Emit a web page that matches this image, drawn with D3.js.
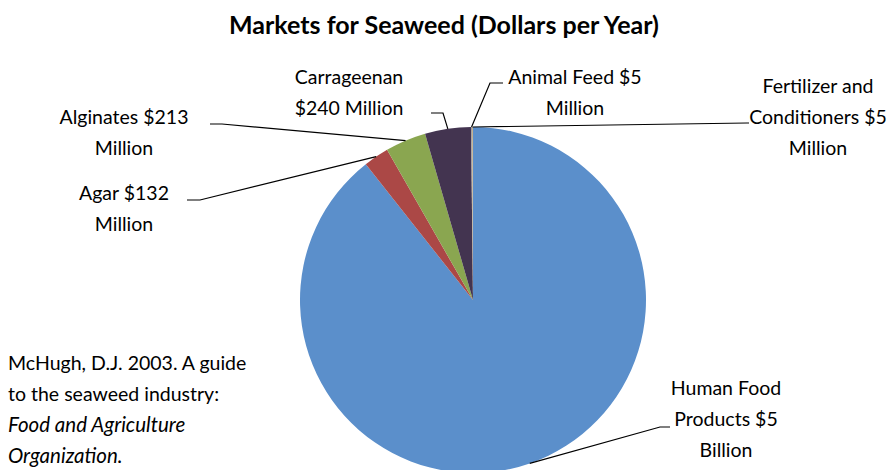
<!DOCTYPE html>
<html>
<head>
<meta charset="utf-8">
<script src="https://cdn.jsdelivr.net/npm/d3@7"></script>
<style>
  body { margin: 0; background: #fff; }
  svg text { font-family: Lato, "Open Sans", sans-serif; fill: #000; }
</style>
</head>
<body>
<div id="chart"></div>
<script>
// data (millions of dollars per year)
var categories = ['Human Food Products', 'Agar', 'Alginates', 'Carrageenan', 'Animal Feed', 'Fertilizer and Conditioners'];
var values = [5000, 132, 213, 240, 5, 5];
var labelLines = [
    ['Human Food', 'Products $5', 'Billion'],
    ['Agar $132', 'Million'],
    ['Alginates $213', 'Million'],
    ['Carrageenan', '$240 Million'],
    ['Animal Feed $5', 'Million'],
    ['Fertilizer and', 'Conditioners $5', 'Million']
];
var colors = ['#5b8fcb', '#ab4846', '#8aa650', '#433450', '#9a9a9a', '#c2ad8a'];
var sourceLines = [
    { t: 'McHugh, D.J. 2003. A guide', italic: false },
    { t: 'to the seaweed industry:', italic: false },
    { t: 'Food and Agriculture', italic: true },
    { t: 'Organization.', italic: true }
];

var width = 889, height = 470,
    cx = 473, cy = 300, radius = 173,
    lineH = 31;

// where each label sits and where its leader line bends (layout only)
var labelLayout = [
    { x: 726, y: 395, elbow: [[660, 427], [670, 427]] },
    { x: 124, y: 200, elbow: [[200, 200], [187, 200]] },
    { x: 124, y: 124, elbow: [[222, 124], [210, 124]] },
    { x: 349, y: 84, elbow: [[443, 113], [431, 113]] },
    { x: 575, y: 84, elbow: [[490, 83], [503, 83]] },
    { x: 818, y: 93, elbow: [[747, 123], [749, 123]] }
];

var svg = d3.select('#chart').append('svg')
    .attr('width', width)
    .attr('height', height);

svg.append('text')
    .attr('x', 444)
    .attr('y', 34)
    .attr('text-anchor', 'middle')
    .style('font-size', '25px')
    .style('font-weight', 'bold')
    .text('Markets for Seaweed (Dollars per Year)');

var pie = d3.pie().sort(null).value(function (d) { return d; });
var arcs = pie(values);
var arc = d3.arc().innerRadius(0).outerRadius(radius);

var chart = svg.append('g')
    .attr('transform', 'translate(' + cx + ',' + cy + ')');

chart.selectAll('path.slice')
    .data(arcs)
    .enter().append('path')
    .attr('class', 'slice')
    .attr('d', arc)
    .attr('fill', function (d, i) { return colors[i]; });

// leader lines: from the slice's outer midpoint to the label
function anchor(d) {
    var a = (d.startAngle + d.endAngle) / 2;
    return [cx + radius * Math.sin(a), cy - radius * Math.cos(a)];
}

svg.selectAll('path.leader')
    .data(arcs)
    .enter().append('path')
    .attr('class', 'leader')
    .attr('d', function (d, i) {
        var pts = [anchor(d)].concat(labelLayout[i].elbow);
        return d3.line()(pts);
    })
    .attr('fill', 'none')
    .attr('stroke', '#000')
    .attr('stroke-width', 1.2);

var labels = svg.selectAll('text.label')
    .data(labelLines)
    .enter().append('text')
    .attr('class', 'label')
    .attr('text-anchor', 'middle')
    .style('font-size', '19.5px');

labels.each(function (lines, i) {
    var t = d3.select(this);
    lines.forEach(function (l, j) {
        t.append('tspan')
            .attr('x', labelLayout[i].x)
            .attr('y', labelLayout[i].y + j * lineH)
            .text(l);
    });
});

svg.append('text')
    .style('font-size', '19.5px')
    .selectAll('tspan')
    .data(sourceLines)
    .enter().append('tspan')
    .attr('x', 8)
    .attr('y', function (d, i) { return 370 + i * lineH; })
    .style('font-style', function (d) { return d.italic ? 'italic' : 'normal'; })
    .style('font-size', function (d) { return d.italic ? '20.5px' : null; })
    .text(function (d) { return d.t; });
</script>
</body>
</html>
